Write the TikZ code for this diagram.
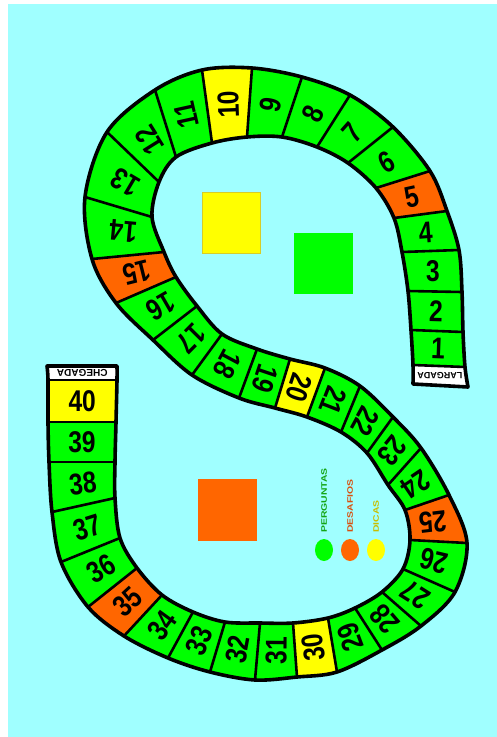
\documentclass[tikz,border=0pt]{standalone}
\usepackage{fontspec}
\setmainfont{Liberation Sans}
\usepackage{graphicx}
\usetikzlibrary{calc}
\definecolor{bgc}{RGB}{160,255,255}
\definecolor{cgreen}{RGB}{0,255,0}
\definecolor{corange}{RGB}{255,102,0}
\definecolor{cyellow}{RGB}{255,255,0}
\definecolor{tgreen}{RGB}{20,165,20}
\definecolor{torange}{RGB}{215,80,15}
\definecolor{tyellow}{RGB}{200,190,0}
\definecolor{ysq}{RGB}{215,205,40}
\tikzset{
  divline/.style={line width=2.6pt},
  border/.style={line width=3.6pt, line join=round},
  numstyle/.style={inner sep=0pt, font=\fontsize{30}{30}\selectfont\bfseries},
  endlabel/.style={inner sep=0pt, rotate=180, font=\fontsize{9}{9}\selectfont\bfseries},
  legtext/.style={inner sep=0pt, rotate=90, anchor=west, font=\fontsize{8}{8}\selectfont\bfseries},
}
\def\trackpath{plot[smooth,tension=0.55] coordinates {(L0) (L1) (L2) (L3) (L4) (L5) (L6) (L7) (L8) (L9) (L10) (L11) (L12) (L13) (L14) (L15) (L16) (L17) (L18) (L19) (L20) (L21) (L22) (L23) (L24) (L25) (L26) (L27) (L28) (L29) (L30) (L31) (L32) (L33) (L34) (L35) (L36) (L37) (L38) (L39) (L40) (L41) (L42)} -- plot[smooth,tension=0.55] coordinates {(R42) (R41) (R40) (R39) (R38) (R37) (R36) (R35) (R34) (R33) (R32) (R31) (R30) (R29) (R28) (R27) (R26) (R25) (R24) (R23) (R22) (R21) (R20) (R19) (R18) (R17) (R16) (R15) (R14) (R13) (R12) (R11) (R10) (R9) (R8) (R7) (R6) (R5) (R4) (R3) (R2) (R1) (R0)} -- cycle}
\begin{document}
\begin{tikzpicture}[x=1pt,y=-1pt]
\useasboundingbox (0,0) rectangle (497,737);
\fill[white] (0,0) rectangle (497,737);
\fill[bgc] (8,4) rectangle (497,737);
% divider end points: L = left of travel, R = right of travel
\foreach \i/\lx/\ly/\rx/\ry in {
 0/413/384/468/387, 1/413/365/465/367, 2/411/330/463/332, 3/408/291/462/292,
 4/402/252/459/250, 5/394/218/447/211, 6/376/188/430/171, 7/348/163/393/127,
 8/317/147/350/95, 9/282/137/302/77, 10/247/137/252/68, 11/212/143/202/70,
 12/176/157/155/90, 13/159/182/107/132, 14/152/217/85/197, 15/164/252/92/259,
 16/176/277/116/303, 17/197/306/153/340, 18/222/334/192/375, 19/257/349/239/398,
 20/290/359/275/408, 21/325/368/307/417, 22/360/386/341/432, 23/393/417/367/453,
 24/421/448/388/485, 25/449/495/405/510, 26/467/543/410/540, 27/455/592/403/569,
 28/421/626/382/592, 29/382/650/355/608, 30/337/672/328/618, 31/297/677/293/623,
 32/255/680/260/623, 33/210/672/225/622, 34/168/658/193/612, 35/124/636/162/595,
 36/88/607/137/568, 37/61/562/120/538, 38/52/512/115/498, 39/49/462/115/462,
 40/48/422/116/422, 41/48/380/117/380, 42/47/366/117/366}{
  \coordinate (L\i) at (\lx,\ly);
  \coordinate (R\i) at (\rx,\ry);
}
% track
\fill[cgreen] \trackpath;
\begin{scope}
\clip \trackpath;
\foreach \k/\c in {0/white,5/corange,10/cyellow,15/corange,20/cyellow,25/corange,30/cyellow,35/corange,40/cyellow,41/white}{
  \pgfmathtruncatemacro\kn{\k+1}
  \fill[\c] ($(R\k)!1.3!(L\k)$) -- ($(L\k)!1.3!(R\k)$) -- ($(L\kn)!1.3!(R\kn)$) -- ($(R\kn)!1.3!(L\kn)$) -- cycle;
}
\end{scope}
\foreach \i in {1,...,41}{
  \draw[divline] (L\i) -- (R\i);
}
\draw[border] \trackpath;
% numbers
\foreach \k in {1,...,40}{
  \pgfmathtruncatemacro\kn{\k+1}
  \path let \p1=($(R\k)-(L\k)+(R\kn)-(L\kn)$), \n1={atan2(\y1,\x1)} in
    node[numstyle, rotate=\n1] (n\k) at ($0.25*(L\k)+0.25*(R\k)+0.25*(L\kn)+0.25*(R\kn)$) {\scalebox{0.82}[1]{\k}};
}
\node[endlabel] (start) at ($0.25*(L0)+0.25*(R0)+0.25*(L1)+0.25*(R1)$) {LARGADA};
\node[endlabel, font=\fontsize{10}{10}\selectfont\bfseries] (finish) at ($0.25*(L41)+0.25*(R41)+0.25*(L42)+0.25*(R42)$) {CHEGADA};
% squares
\filldraw[fill=cyellow, draw=ysq, line width=0.6pt] (202,192) rectangle (260,253);
\fill[cgreen] (294,233) rectangle (353,294);
\fill[corange] (198,479) rectangle (257,541);
% legend
\fill[cgreen] (324,550) ellipse (9 and 11);
\fill[corange] (350,550) ellipse (9 and 11);
\fill[cyellow] (376,550) ellipse (9 and 11);
\node[legtext, text=tgreen] (lq) at (324,533) {\scalebox{1.3}[1]{PERGUNTAS}};
\node[legtext, text=torange] (ld) at (350,533) {\scalebox{1.3}[1]{DESAFIOS}};
\node[legtext, text=tyellow] (lc) at (376,533) {\scalebox{1.3}[1]{DICAS}};
\end{tikzpicture}
\end{document}
